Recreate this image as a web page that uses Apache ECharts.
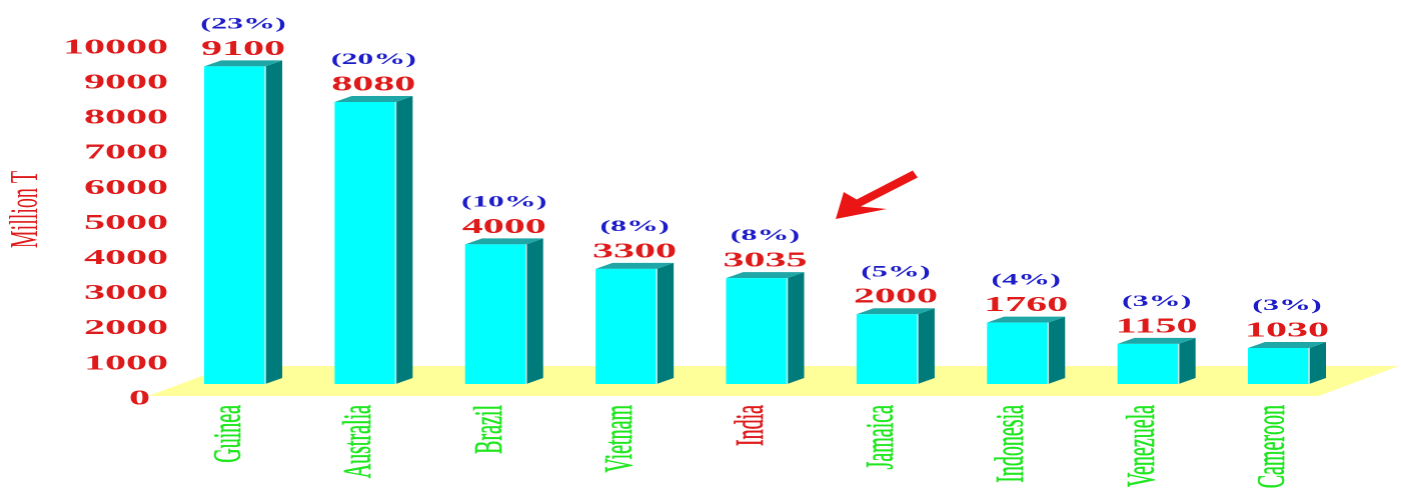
<!DOCTYPE html>
<html>
<head>
<meta charset="utf-8">
<script src="https://cdn.jsdelivr.net/npm/echarts@6/dist/echarts.min.js"></script>
<style>
  html, body { margin: 0; padding: 0; background: #fff; overflow: hidden; width: 1401px; height: 488px; }
  /* the chart is laid out at half width and stretched horizontally */
  #chart { position: absolute; left: 0; top: 0; width: 700px; height: 488px;
           transform: scaleX(2.0015); transform-origin: 0 0; }
</style>
</head>
<body>
<div id="chart"></div>
<script>
// Bauxite reserves by country (million tonnes) and share of world total (%)
const countries = ['Guinea', 'Australia', 'Brazil', 'Vietnam', 'India', 'Jamaica', 'Indonesia', 'Venezuela', 'Cameroon'];
const reserves  = [9100, 8080, 4000, 3300, 3035, 2000, 1760, 1150, 1030];
const shares    = [23, 20, 10, 8, 8, 5, 4, 3, 3];
const highlighted = 'India';
const axisMax = 10000;
const axisStep = 1000;

const RED = '#de1a1a';
const GREEN = '#1fe61f';
const BLUE = '#1c1cc8';
const SERIF = '"Liberation Serif", "Times New Roman", serif';

// depth of the extruded boxes
const DX = 8.5, DY = 6;

function renderFloor(params) {
  const cs = params.coordSys;
  const back = cs.y + cs.height - 18;
  const front = cs.y + cs.height + 12;
  return {
    type: 'polygon',
    shape: { points: [
      [cs.x - 10.5, front],
      [cs.x + 29.5, back],
      [cs.x + cs.width + 27.5, back],
      [cs.x + cs.width - 12.5, front]
    ] },
    style: { fill: '#ffff99' }
  };
}

function renderBox(params, api) {
  const i = api.value(0);
  const v = api.value(1);
  const share = api.value(2);
  const base = api.coord([i, 0]);
  const top = api.coord([i, v]);
  const band = api.size([1, 0])[0];
  const w = band * 0.468;
  const x0 = base[0] - w / 2, x1 = base[0] + w / 2;
  const yb = base[1], yt = top[1];
  const cx = base[0] + DX / 2;
  return {
    type: 'group',
    children: [
      { type: 'polygon', shape: { points: [[x1, yt], [x1 + DX, yt - DY], [x1 + DX, yb - DY], [x1, yb]] },
        style: { fill: '#007b7b' } },
      { type: 'polygon', shape: { points: [[x0, yt], [x0 + DX, yt - DY], [x1 + DX, yt - DY], [x1, yt]] },
        style: { fill: '#1fa6a6' } },
      { type: 'rect', shape: { x: x0, y: yt, width: w, height: yb - yt },
        style: { fill: '#00ffff' } },
      { type: 'line', shape: { x1: x1, y1: yt, x2: x1, y2: yb },
        style: { stroke: '#bfeaea', lineWidth: 0.8 } },
      { type: 'text', style: { text: String(v), x: cx, y: yt - 17, align: 'center', verticalAlign: 'middle',
        fill: RED, font: 'bold 21px ' + SERIF } },
      { type: 'text', style: { text: '(' + share + '%)', x: cx, y: yt - 42, align: 'center', verticalAlign: 'middle',
        fill: BLUE, font: 'bold 16px ' + SERIF } }
    ]
  };
}

// country name style: green, the highlighted country in red
const nameStyle = (color) => ({
  color: color, textBorderColor: color, textBorderWidth: 0.3,
  fontFamily: SERIF, fontSize: 20, padding: [0, 0, 5, 0]
});

const chart = echarts.init(document.getElementById('chart'), null, { renderer: 'canvas', devicePixelRatio: 2 });

chart.setOption({
  animation: false,
  grid: [
    { left: 84.65, right: 28.65, top: 35, bottom: 104, outerBoundsMode: 'none', containLabel: false },
    { left: 86, right: 28.65, top: 48, bottom: 89, outerBoundsMode: 'none', containLabel: false }
  ],
  xAxis: [
    { type: 'category', gridIndex: 0, data: countries,
      axisLine: { show: false }, axisTick: { show: false },
      axisLabel: { rotate: 90, margin: 21, interval: 0, fontFamily: SERIF, fontSize: 20,
        formatter: (val) => (val === highlighted ? '{hi|' : '{c|') + val + '}',
        rich: { c: nameStyle(GREEN), hi: nameStyle(RED) } } },
    { type: 'category', gridIndex: 1, data: countries, show: false }
  ],
  yAxis: [
    { type: 'value', gridIndex: 0, min: 0, max: axisMax, interval: axisStep,
      name: 'Million T', nameLocation: 'middle', nameRotate: 90, nameGap: 61.5,
      nameTextStyle: { color: RED, fontFamily: SERIF, fontSize: 20 },
      axisLabel: { show: false }, axisLine: { show: false }, axisTick: { show: false },
      splitLine: { show: false } },
    { type: 'value', gridIndex: 1, min: 0, max: axisMax, interval: axisStep,
      axisLine: { show: false }, axisTick: { show: false }, splitLine: { show: false },
      axisLabel: { margin: 2, color: RED, fontFamily: SERIF, fontSize: 21, fontWeight: 'bold',
        formatter: (val) => val === 0 ? '{z|0}' : String(val),
        rich: { z: { padding: [0, 9, 0, 0], color: RED, fontFamily: SERIF, fontSize: 21, fontWeight: 'bold' } } } }
  ],
  graphic: [
    { type: 'polygon', z: 10,
      shape: { points: [[417.5, 219], [421.5, 192], [428, 199.5], [456, 170.5], [458.5, 177.5], [430, 206.5], [443, 209]] },
      style: { fill: '#ea1616' } }
  ],
  series: [
    { type: 'custom', xAxisIndex: 0, yAxisIndex: 0, z: 1, silent: true,
      renderItem: renderFloor, data: [[0, 0]] },
    { type: 'custom', xAxisIndex: 0, yAxisIndex: 0, z: 2,
      renderItem: renderBox,
      encode: { x: 0, y: 1 },
      data: reserves.map((v, i) => [i, v, shares[i]]) }
  ]
});
</script>
</body>
</html>
